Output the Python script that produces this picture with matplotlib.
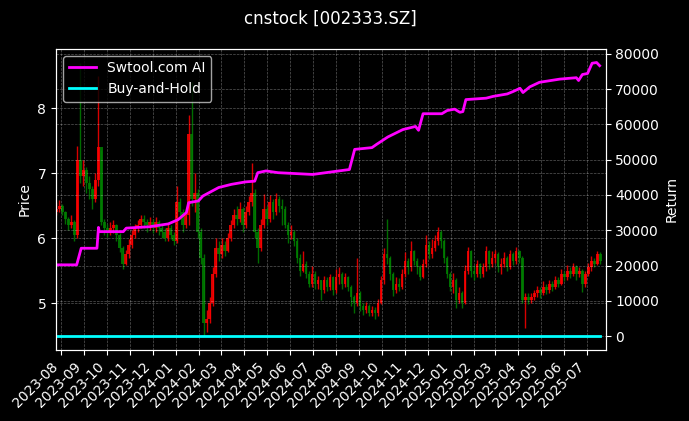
import pandas as pd
import matplotlib
matplotlib.use("Agg")
import matplotlib.pyplot as plt
import matplotlib.dates as mdates

# candle data, one candle every 4 days
candle_start = "2023-07-26"
first_open = 6.40
closes = [6.45, 6.50, 6.40, 6.30, 6.20, 6.25, 6.05, 7.20, 6.95, 7.05,
          6.85, 6.75, 6.60, 6.90, 7.40, 6.25, 6.15, 6.10, 6.15, 6.20,
          6.05, 5.85, 5.60, 5.75, 5.90, 6.05, 6.15, 6.20, 6.30, 6.25,
          6.20, 6.25, 6.15, 6.25, 6.15, 6.10, 6.00, 6.15, 6.05, 5.95,
          6.55, 6.40, 6.20, 6.35, 7.60, 6.60, 6.70, 6.10, 5.70, 4.70,
          4.75, 5.00, 5.45, 5.85, 5.75, 5.90, 5.80, 6.00, 6.20, 6.35,
          6.30, 6.45, 6.20, 6.40, 6.55, 6.70, 6.10, 5.85, 6.20, 6.45,
          6.30, 6.55, 6.40, 6.60, 6.50, 6.45, 6.20, 6.05, 6.10, 5.95,
          5.70, 5.50, 5.60, 5.45, 5.30, 5.45, 5.30, 5.35, 5.20, 5.35,
          5.25, 5.40, 5.20, 5.40, 5.45, 5.30, 5.40, 5.25, 5.10, 5.00,
          5.15, 4.95, 4.90, 4.95, 4.85, 4.90, 4.85, 5.00, 5.35, 5.75,
          5.70, 5.45, 5.20, 5.30, 5.25, 5.45, 5.65, 5.55, 5.80, 5.65,
          5.55, 5.40, 5.60, 5.90, 5.75, 5.85, 5.95, 6.10, 5.95, 5.70,
          5.45, 5.25, 5.35, 5.05, 5.15, 5.00, 5.50, 5.80, 5.50, 5.45,
          5.60, 5.45, 5.55, 5.80, 5.60, 5.70, 5.75, 5.55, 5.60, 5.70,
          5.55, 5.75, 5.65, 5.80, 5.70, 5.05, 5.10, 5.05, 5.10, 5.15,
          5.20, 5.15, 5.25, 5.20, 5.30, 5.25, 5.35, 5.30, 5.45, 5.40,
          5.50, 5.45, 5.55, 5.45, 5.50, 5.30, 5.45, 5.55, 5.65, 5.60,
          5.75, 5.65]
highs = [6.55, 6.58, 6.52, 6.42, 6.32, 6.35, 6.28, 7.42, 8.70, 7.20,
         7.10, 6.95, 6.80, 7.00, 8.50, 7.35, 6.30, 6.22, 6.25, 6.28,
         6.22, 6.08, 5.88, 5.82, 5.98, 6.12, 6.22, 6.28, 6.36, 6.35,
         6.30, 6.32, 6.30, 6.32, 6.28, 6.22, 6.15, 6.22, 6.20, 6.10,
         6.80, 6.62, 6.45, 6.42, 7.90, 8.40, 7.00, 6.75, 6.15, 5.75,
         4.90, 5.10, 5.55, 6.00, 5.95, 6.00, 5.95, 6.08, 6.28, 6.45,
         6.50, 6.55, 6.48, 6.50, 6.65, 7.15, 6.75, 6.15, 6.30, 6.68,
         6.50, 6.66, 6.60, 6.70, 6.65, 6.60, 6.50, 6.25, 6.20, 6.12,
         6.00, 5.75, 5.80, 5.65, 5.50, 5.57, 5.50, 5.42, 5.35, 5.42,
         5.40, 5.45, 5.42, 5.52, 5.55, 5.48, 5.46, 5.42, 5.28, 5.12,
         5.70, 5.18, 5.00, 5.02, 4.98, 4.96, 4.94, 5.06, 5.42, 5.84,
         6.30, 5.72, 5.48, 5.40, 5.38, 5.52, 5.78, 5.70, 5.96, 5.82,
         5.70, 5.58, 5.68, 6.04, 5.95, 5.98, 6.05, 6.17, 6.12, 5.98,
         5.72, 5.48, 5.46, 5.38, 5.25, 5.18, 5.58, 5.86, 5.82, 5.58,
         5.66, 5.62, 5.62, 5.87, 5.82, 5.80, 5.82, 5.78, 5.70, 5.78,
         5.72, 5.82, 5.78, 5.86, 5.82, 5.72, 5.15, 5.15, 5.16, 5.20,
         5.26, 5.24, 5.34, 5.30, 5.36, 5.34, 5.42, 5.40, 5.52, 5.50,
         5.58, 5.55, 5.61, 5.58, 5.56, 5.52, 5.50, 5.62, 5.72, 5.70,
         5.80, 5.78]
lows = [6.35, 6.40, 6.35, 6.22, 6.12, 6.15, 5.95, 6.00, 6.85, 6.80,
        6.70, 6.60, 6.45, 6.55, 6.80, 6.20, 6.05, 6.02, 6.05, 6.08,
        5.95, 5.78, 5.52, 5.58, 5.70, 5.85, 6.00, 6.10, 6.15, 6.15,
        6.10, 6.12, 6.08, 6.10, 6.05, 6.00, 5.95, 5.95, 5.98, 5.90,
        5.92, 6.30, 6.10, 6.15, 6.20, 6.50, 6.40, 6.00, 5.60, 4.49,
        4.55, 4.70, 4.95, 5.40, 5.65, 5.70, 5.72, 5.78, 5.95, 6.15,
        6.20, 6.25, 6.10, 6.15, 6.35, 6.50, 6.00, 5.62, 5.80, 6.15,
        6.20, 6.25, 6.30, 6.35, 6.40, 6.20, 6.15, 5.93, 5.98, 5.88,
        5.62, 5.42, 5.48, 5.38, 5.25, 5.25, 5.22, 5.22, 5.05, 5.15,
        5.18, 5.20, 5.12, 5.15, 5.30, 5.22, 5.25, 5.18, 4.95, 4.85,
        4.95, 4.88, 4.82, 4.85, 4.80, 4.80, 4.76, 4.80, 4.98, 5.30,
        5.60, 5.35, 5.11, 5.15, 5.18, 5.22, 5.40, 5.45, 5.50, 5.58,
        5.45, 5.36, 5.38, 5.55, 5.68, 5.70, 5.80, 5.90, 5.85, 5.62,
        5.38, 5.18, 5.15, 4.92, 5.00, 4.92, 4.98, 5.45, 5.40, 5.35,
        5.40, 5.38, 5.40, 5.50, 5.52, 5.55, 5.62, 5.48, 5.45, 5.55,
        5.50, 5.52, 5.58, 5.60, 5.62, 5.00, 4.62, 4.98, 5.00, 5.04,
        5.10, 5.08, 5.12, 5.14, 5.16, 5.18, 5.22, 5.24, 5.28, 5.34,
        5.36, 5.38, 5.42, 5.36, 5.40, 5.17, 5.25, 5.42, 5.50, 5.55,
        5.58, 5.60]

# strategy equity curve (breakpoints)
ai_dates = ["2023-07-26", "2023-08-22", "2023-08-28", "2023-09-18", "2023-09-20",
            "2023-09-21", "2023-10-23", "2023-10-27", "2023-11-27", "2023-12-22",
            "2024-01-04", "2024-01-15", "2024-01-18", "2024-01-31", "2024-02-06",
            "2024-02-27", "2024-03-15", "2024-04-03", "2024-04-15", "2024-04-19",
            "2024-04-30", "2024-05-16", "2024-07-01", "2024-07-29", "2024-08-19",
            "2024-08-26", "2024-09-18", "2024-09-24", "2024-10-09", "2024-10-29",
            "2024-11-15", "2024-11-19", "2024-11-25", "2024-12-20", "2024-12-27",
            "2025-01-06", "2025-01-13", "2025-01-17", "2025-01-21", "2025-02-17",
            "2025-02-26", "2025-03-17", "2025-03-25", "2025-04-03", "2025-04-07",
            "2025-04-16", "2025-04-29", "2025-05-26", "2025-06-17", "2025-06-20",
            "2025-06-25", "2025-07-02", "2025-07-08", "2025-07-14", "2025-07-18"]
ai_values = [20200, 20200, 24900, 24900, 30800, 29600, 29600, 30600, 31000, 31800,
             33000, 35000, 37800, 38300, 39700, 42100, 43000, 43700, 43900, 46300,
             46800, 46300, 45800, 46600, 47200, 52900, 53400, 54300, 56400, 58500,
             59400, 58300, 63000, 63000, 63900, 64300, 63400, 63600, 67000, 67400,
             67900, 68600, 69300, 70200, 69000, 70600, 71900, 72800, 73200, 72400,
             74100, 74400, 77300, 77500, 76600]

bh_dates = ["2023-07-26", "2025-07-18"]
bh_values = [0, 0]

plt.style.use("dark_background")
fig, ax = plt.subplots(figsize=(6.89, 4.21), dpi=100)
fig.subplots_adjust(left=0.0813, right=0.879, bottom=0.169, top=0.884)

dates = pd.date_range(candle_start, periods=len(closes), freq="4D")
opens = [first_open] + closes[:-1]
colors = ["red" if c >= o else "green" for o, c in zip(opens, closes)]
bottoms = [min(o, c) for o, c in zip(opens, closes)]
heights = [max(abs(c - o), 0.02) for o, c in zip(opens, closes)]

# candles
ax.vlines(dates, lows, highs, colors=colors, linewidth=1.0, alpha=0.85)
ax.bar(dates, heights, bottom=bottoms, width=3.4, color=colors, alpha=0.85, linewidth=0)
ax.set_ylabel("Price")
ax.grid(True, linestyle="--", linewidth=0.5, alpha=0.35)

# returns on second axis
ax2 = ax.twinx()
ax2.plot(pd.to_datetime(ai_dates), ai_values, color="magenta", linewidth=2, label="Swtool.com AI")
ax2.plot(pd.to_datetime(bh_dates), bh_values, color="cyan", linewidth=2, label="Buy-and-Hold")
ax2.set_ylabel("Return")
ax2.grid(True, linestyle="--", linewidth=0.5, alpha=0.35)

ax.set_xlim(pd.Timestamp("2023-07-25 12:00"), pd.Timestamp("2025-07-26"))
ax.xaxis.set_major_locator(mdates.MonthLocator())
ax.xaxis.set_major_formatter(mdates.DateFormatter("%Y-%m"))
plt.setp(ax.get_xticklabels(), rotation=45, ha="right")

ax2.legend(loc="upper left")
ax.set_title("cnstock [002333.SZ]", pad=18, fontsize=12)

plt.savefig("out.png")
